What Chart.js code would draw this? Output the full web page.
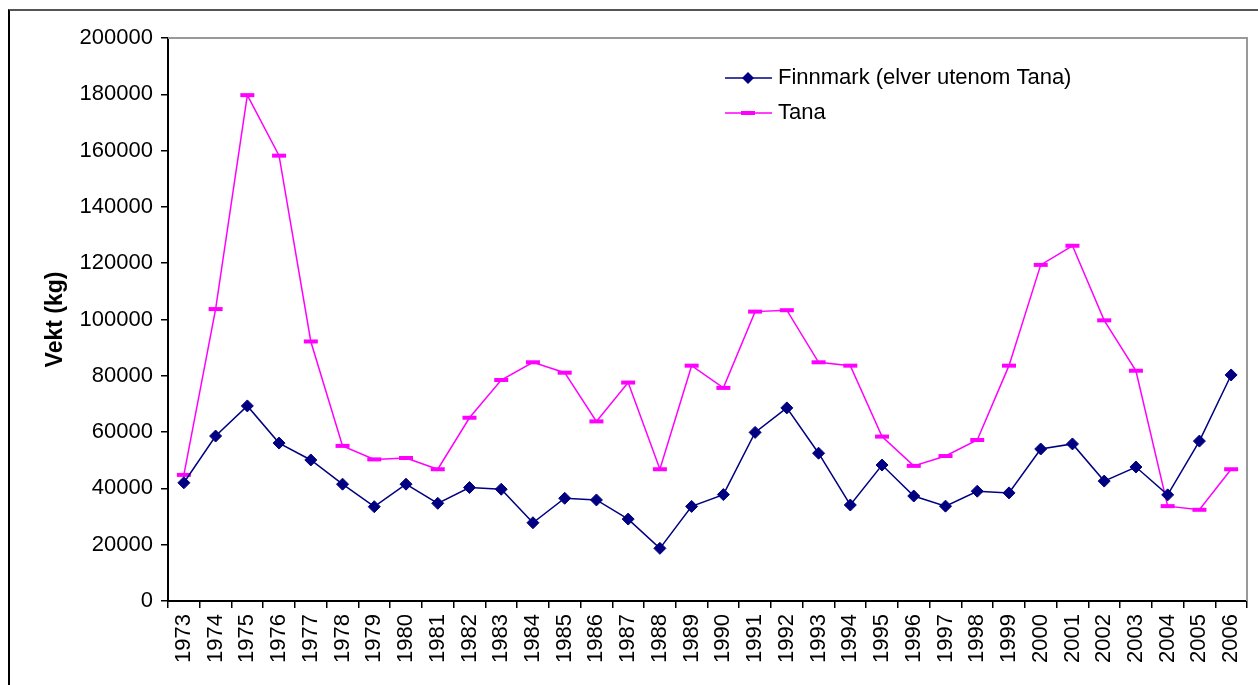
<!DOCTYPE html>
<html>
<head>
<meta charset="utf-8">
<script src="https://cdn.jsdelivr.net/npm/chart.js@4"></script>
<style>
  html, body { margin: 0; padding: 0; background: #fff; }
  #wrap { position: relative; width: 1258px; height: 685px; }
  #frame { position: absolute; left: 8px; top: 9px; right: 0; bottom: 0;
           border-left: 2px solid #000; border-top: 2px solid #555; pointer-events: none; }
</style>
</head>
<body>
<div id="wrap">
  <canvas id="graphchart" width="1258" height="685"></canvas>
  <div id="frame"></div>
</div>
<script>
var years = ['1973','1974','1975','1976','1977','1978','1979','1980','1981','1982','1983','1984',
             '1985','1986','1987','1988','1989','1990','1991','1992','1993','1994','1995','1996',
             '1997','1998','1999','2000','2001','2002','2003','2004','2005','2006']

var finnmark = [42000, 58600, 69300, 56100, 50100, 41500, 33500, 41500, 34700, 40300, 39700, 27800,
                36500, 35900, 29100, 18700, 33600, 37800, 59900, 68600, 52500, 34100, 48300, 37300,
                33700, 39000, 38400, 54000, 55800, 42600, 47600, 37700, 56800, 80300]

var tana = [44800, 103700, 179700, 158200, 92200, 55100, 50300, 50800, 46800, 65100, 78500, 84800,
            81100, 63800, 77600, 46800, 83600, 75700, 102800, 103300, 84800, 83600, 58400, 48000,
            51500, 57200, 83600, 119400, 126200, 99700, 81800, 33700, 32400, 46800]

var yTitle = 'Vekt (kg)'
var fontFamily = '"Liberation Sans", Arial, sans-serif'

var chartFrame = {
    id: 'chartFrame',
    afterDraw: function (chart) {
        var ctx = chart.ctx
        var a = chart.chartArea
        ctx.save()
        // grey top and right edge of the plot area
        ctx.strokeStyle = '#999'
        ctx.lineWidth = 2
        ctx.beginPath()
        ctx.moveTo(a.left, a.top)
        ctx.lineTo(a.right, a.top)
        ctx.lineTo(a.right, a.bottom)
        ctx.stroke()

        // legend inside the plot
        var items = chart.data.datasets
        ctx.font = '22px ' + fontFamily
        ctx.textBaseline = 'middle'
        for (var i = 0; i < items.length; i++) {
            var y = 78 + i * 35
            ctx.strokeStyle = items[i].borderColor
            ctx.lineWidth = 1.5
            ctx.beginPath()
            ctx.moveTo(725, y)
            ctx.lineTo(772, y)
            ctx.stroke()
            ctx.fillStyle = items[i].borderColor
            if (i === 0) {
                ctx.beginPath()
                ctx.moveTo(748, y - 6); ctx.lineTo(754, y); ctx.lineTo(748, y + 6); ctx.lineTo(742, y)
                ctx.closePath(); ctx.fill()
            } else {
                ctx.fillRect(741, y - 2, 14, 4)
            }
            ctx.fillStyle = '#000'
            ctx.fillText(items[i].label, 778, y)
        }
        ctx.restore()
    }
}

function showgraphic() {
    var ctx = document.getElementById("graphchart")

    new Chart(ctx, {
        type: 'line',
        data: {
            labels: years,
            datasets: [{
                label: 'Finnmark (elver utenom Tana)',
                data: finnmark,
                borderColor: '#000080',
                backgroundColor: '#000080',
                borderWidth: 1.5,
                pointStyle: 'rectRot',
                pointRadius: 6,
                pointBorderWidth: 1,
                tension: 0
            }, {
                label: 'Tana',
                data: tana,
                borderColor: '#FF00FF',
                backgroundColor: '#FF00FF',
                borderWidth: 1.5,
                pointStyle: 'line',
                pointRadius: 7,
                pointBorderWidth: 4,
                tension: 0
            }]
        },
        options: {
            responsive: false,
            animation: false,
            layout: { padding: { left: 0, right: 5, top: 38, bottom: 0 } },
            scales: {
                x: {
                    offset: true,
                    afterFit: function (s) { s.height = 84; s.paddingRight = 0; s.paddingLeft = 0 },
                    grid: { offset: true, drawOnChartArea: false, tickLength: 7, color: '#000', lineWidth: 1.5 },
                    border: { color: '#000', width: 2 },
                    ticks: {
                        color: '#000', minRotation: 90, maxRotation: 90, autoSkip: false, padding: 6,
                        font: { family: fontFamily, size: 22 }
                    }
                },
                y: {
                    min: 0,
                    max: 200000,
                    afterFit: function (s) { s.width = 168 },
                    grid: { drawOnChartArea: false, tickLength: 7, color: '#000', lineWidth: 1.5 },
                    border: { color: '#000', width: 2 },
                    ticks: {
                        stepSize: 20000, color: '#000', padding: 8,
                        font: { family: fontFamily, size: 22 },
                        callback: function (v) { return String(v) }
                    },
                    title: {
                        display: true, text: yTitle, color: '#000',
                        padding: { top: 42, bottom: 0 },
                        font: { family: fontFamily, size: 23, weight: 'bold' }
                    }
                }
            },
            plugins: {
                legend: { display: false },
                tooltip: { enabled: false }
            }
        },
        plugins: [chartFrame]
    });
}

document.addEventListener("DOMContentLoaded", showgraphic);
</script>
</body>
</html>
